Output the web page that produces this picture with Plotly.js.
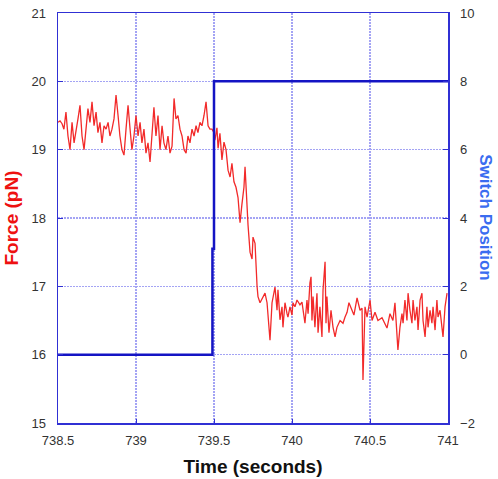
<!DOCTYPE html>
<html>
<head>
<meta charset="utf-8">
<script src="https://cdn.plot.ly/plotly-3.0.1.min.js"></script>
<style>html,body{margin:0;padding:0;background:#fff;}#chart{width:498px;height:479px;}</style>
</head>
<body>
<div id="chart"></div>
<script>
// Force trace (pN)
const forceTime = [
738.500,738.513,738.526,738.538,738.551,738.564,738.577,738.590,738.603,738.615,
738.628,738.641,738.654,738.667,738.679,738.692,738.705,738.718,738.731,738.744,
738.756,738.769,738.782,738.795,738.808,738.821,738.833,738.846,738.859,738.872,
738.885,738.897,738.910,738.923,738.936,738.949,738.962,738.974,738.987,739.000,
739.013,739.026,739.038,739.051,739.064,739.077,739.090,739.103,739.115,739.128,
739.141,739.154,739.167,739.179,739.192,739.205,739.218,739.231,739.244,739.256,
739.269,739.282,739.295,739.308,739.321,739.333,739.346,739.359,739.372,739.385,
739.397,739.410,739.423,739.436,739.449,739.462,739.474,739.487,739.500,
739.506,739.519,739.526,739.538,739.551,739.564,739.577,739.590,739.603,739.615,
739.628,739.641,739.654,739.667,739.679,739.692,739.699,739.712,739.718,739.731,
739.744,739.750,739.763,739.776,739.782,739.795,739.814,739.827,739.840,739.859,
739.872,739.891,739.904,739.910,739.923,739.936,739.942,739.955,739.968,739.974,
739.987,740.000,740.006,740.019,740.032,740.051,740.064,740.071,740.083,740.096,
740.103,740.115,740.122,740.128,740.135,740.147,740.160,740.167,740.179,740.192,
740.199,740.212,740.218,740.224,740.237,740.250,740.263,740.276,740.288,740.308,
740.327,740.340,740.353,740.365,740.385,740.397,740.417,740.423,740.436,740.449,
740.455,740.468,740.481,740.500,740.513,740.532,740.551,740.577,740.596,740.609,
740.628,740.647,740.660,740.673,740.679,740.692,740.705,740.712,740.724,740.737,
740.744,740.756,740.769,740.776,740.788,740.801,740.808,740.821,740.833,740.840,
740.853,740.865,740.872,740.885,740.897,740.904,740.917,740.929,740.936,740.949,
740.962,740.968,740.981,740.994
];
const forcePN = [
19.40,19.42,19.38,19.30,19.55,19.20,19.00,19.40,19.10,19.30,
19.45,19.65,19.20,19.00,19.30,19.60,19.40,19.70,19.35,19.55,
19.25,19.40,19.10,19.35,19.30,19.40,19.20,19.30,19.45,19.80,
19.50,19.20,19.00,18.92,19.30,19.65,19.30,19.00,19.20,19.50,
19.20,19.40,19.10,19.30,18.95,19.10,18.82,19.30,19.62,19.20,
19.50,19.00,19.35,19.10,19.00,19.20,18.95,19.05,19.75,19.45,
19.50,19.30,19.20,19.00,18.95,19.20,19.10,19.30,19.20,19.35,
19.25,19.40,19.35,19.50,19.70,19.35,19.30,19.30,19.25,
19.14,19.32,19.02,19.24,18.85,19.11,19.00,18.70,18.60,18.80,
18.53,18.45,18.30,17.93,18.20,18.45,18.75,18.05,17.90,17.50,
17.40,17.72,17.63,17.00,16.85,16.76,16.85,16.90,16.76,16.21,
16.76,16.99,16.65,16.95,16.51,16.70,16.40,16.76,16.60,16.55,
16.70,16.58,16.76,16.70,16.80,16.73,16.77,16.65,16.46,16.80,
16.60,17.05,17.14,16.50,16.85,16.40,16.90,16.32,16.70,16.26,
16.95,17.36,16.46,16.85,16.32,16.65,16.40,16.26,16.40,16.50,
16.46,16.55,16.62,16.76,16.65,16.58,16.83,16.77,16.65,16.68,
15.63,16.70,16.55,16.80,16.50,16.62,16.50,16.54,16.46,16.39,
16.60,16.50,16.76,16.21,16.07,16.40,16.60,16.46,16.80,16.50,
16.90,16.65,16.46,16.80,16.50,16.70,16.36,16.80,16.90,16.50,
16.26,16.70,16.40,16.65,16.46,16.70,16.36,16.80,16.55,16.65,
16.40,16.26,16.70,16.90
];
// Switch position step
const switchTime = [738.5, 739.49, 739.49, 739.50, 739.50, 741.0];
const switchPos  = [0, 0, 3.1, 3.1, 8, 8];

const xTicks = [738.5, 739, 739.5, 740, 740.5, 741];
const xTickText = ["738.5", "739", "739.5", "740", "740.5", "741"];

const frameColor = "#3030d4";
const gridColor = "#a4a4f4";
const fam = "Liberation Sans, Arial, sans-serif";
const tickFont = {family: fam, size: 13, color: "#333333"};

const traces = [
  {x: forceTime, y: forcePN, type: "scatter", mode: "lines",
   line: {color: "#f22a2a", width: 1.3}, yaxis: "y", hoverinfo: "skip"},
  {x: switchTime, y: switchPos, type: "scatter", mode: "lines",
   line: {color: "#1414c4", width: 2.5}, yaxis: "y2", hoverinfo: "skip"}
];

const layout = {
  width: 498, height: 479,
  margin: {l: 58, r: 50, t: 13, b: 56, pad: 0},
  paper_bgcolor: "#ffffff", plot_bgcolor: "#ffffff",
  showlegend: false,
  xaxis: {
    range: [738.5, 741], tickmode: "array", tickvals: xTicks, ticktext: xTickText,
    showgrid: true, gridcolor: gridColor, griddash: "2px,1px", gridwidth: 1.2,
    showline: true, linecolor: frameColor, linewidth: 1.5, mirror: true,
    ticks: "inside", ticklen: 4, tickcolor: frameColor,
    tickfont: tickFont, zeroline: false, ticklabelstandoff: 5,
    title: {text: "<b>Time (seconds)</b>", standoff: 12,
            font: {family: fam, size: 19, color: "#111111"}}
  },
  yaxis: {
    range: [15, 21], dtick: 1, tick0: 15,
    showgrid: true, gridcolor: gridColor, griddash: "2px,1px", gridwidth: 1.2,
    showline: true, linecolor: frameColor, linewidth: 1.5, mirror: true,
    ticks: "inside", ticklen: 5, tickcolor: frameColor,
    tickfont: tickFont, zeroline: false, ticklabelstandoff: 8,
    title: {text: "<b>Force (pN)</b>", standoff: 8,
            font: {family: fam, size: 19, color: "#ee1111"}}
  },
  yaxis2: {
    range: [-2, 10], dtick: 2, tick0: -2, overlaying: "y", side: "right",
    showgrid: false, showline: true, linecolor: frameColor, linewidth: 1.5,
    ticks: "inside", ticklen: 5, tickcolor: frameColor,
    tickfont: tickFont, zeroline: false, ticklabelstandoff: 8
  },
  annotations: [{
    text: "<b>Switch Position</b>", xref: "paper", yref: "paper",
    x: 1.097, y: 0.5, xanchor: "center", yanchor: "middle",
    textangle: 90, showarrow: false,
    font: {family: fam, size: 17, color: "#3a6cf0"}
  }]
};

Plotly.newPlot("chart", traces, layout, {staticPlot: true, displayModeBar: false});
</script>
</body>
</html>
